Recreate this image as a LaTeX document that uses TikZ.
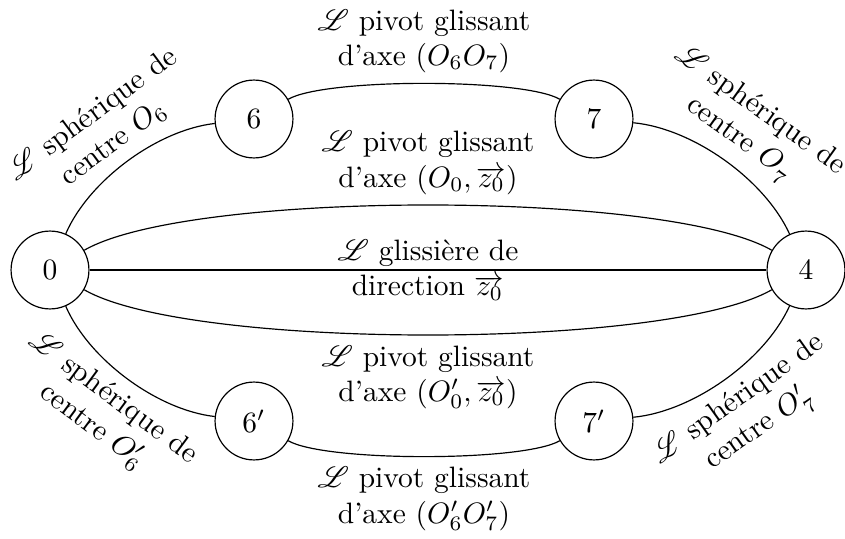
\documentclass[tikz,border=0pt]{standalone}
\usepackage{fontspec}
\usepackage{mathrsfs}
\begin{document}
\begin{tikzpicture}[x=0.339pt,y=0.339pt,
  nd/.style={circle,draw,minimum size=26.4pt,inner sep=0pt},
  lab/.style={align=center,inner sep=3.33pt}]
\useasboundingbox (0,0) rectangle (845,-539);
\node[nd] (n0) at (50,-270) {0};
\node[nd] (n4) at (806,-270) {4};
\node[nd] (n6) at (254,-119) {6};
\node[nd] (n7) at (594,-119) {7};
\node[nd] (n6p) at (254,-421) {$6'$};
\node[nd] (n7p) at (594,-421) {$7'$};

\draw (n0) to[bend left=30,looseness=0.8]
  node[lab,sloped,above] {$\mathscr{L}$ sphérique de\\centre $O_{\mathnormal{6}}$} (n6);
\draw (n6) to[bend left=30,looseness=0.4]
  node[lab,above] {$\mathscr{L}$ pivot glissant\\d'axe $(O_6O_7)$} (n7);
\draw (n7) to[bend left=30,looseness=0.8]
  node[lab,sloped,above] {$\mathscr{L}$ sphérique de\\centre $O_{\mathnormal{7}}$} (n4);

\draw (n0) to[bend left=30,looseness=0.45]
  node[lab,above] {$\mathscr{L}$ pivot glissant\\d'axe $(O_0,\overrightarrow{z_0})$} (n4);
\draw (n0) -- node[lab] {$\mathscr{L}$ glissière de\\direction $\overrightarrow{z_0}$} (n4);
\draw (n0) to[bend right=30,looseness=0.45]
  node[lab,below] {$\mathscr{L}$ pivot glissant\\d'axe $(O'_0,\overrightarrow{z_0})$} (n4);

\draw (n0) to[bend right=30,looseness=0.8]
  node[lab,sloped,below] {$\mathscr{L}$ sphérique de\\centre $O'_{\mathnormal{6}}$} (n6p);
\draw (n6p) to[bend right=30,looseness=0.4]
  node[lab,below] {$\mathscr{L}$ pivot glissant\\d'axe $(O'_6O'_7)$} (n7p);
\draw (n7p) to[bend right=30,looseness=0.8]
  node[lab,sloped,below] {$\mathscr{L}$ sphérique de\\centre $O'_{\mathnormal{7}}$} (n4);
\end{tikzpicture}
\end{document}
